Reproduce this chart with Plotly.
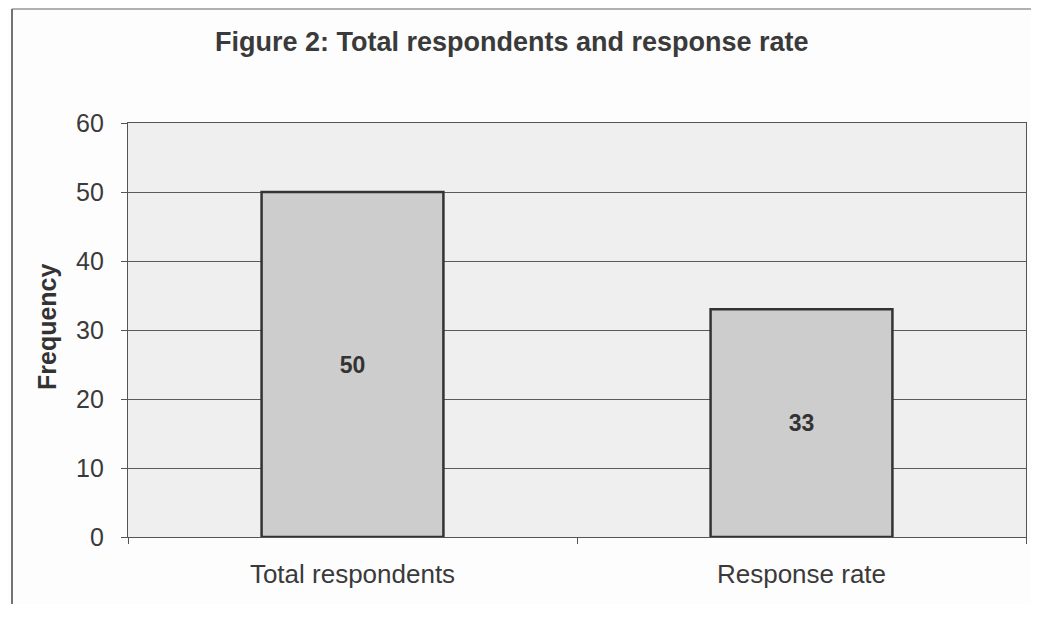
import plotly.graph_objects as go

categories = ["Total respondents", "Response rate"]
values = [50, 33]
labels = ["50", "33"]
y_ticks = [0, 10, 20, 30, 40, 50, 60]

# browser body margin offsets the figure by 8px
OFF = 8
W, H = 1039 - OFF, 618 - 2 * OFF - 6
# plot area in page pixels: x 128..1026, y 123..537
PL, PR, PT, PB = 128, 1026, 123, 537
L, T = PL - OFF, PT - OFF
R, B = W - (PR - OFF), H - (PB - OFF)
pw, ph = PR - PL, PB - PT


def px(x):
    return (x - PL) / pw


def py(y):
    return (PB - y) / ph


fig = go.Figure()
fig.add_trace(go.Bar(
    x=categories, y=values, text=labels,
    textposition="inside", insidetextanchor="middle",
    textfont=dict(family="Liberation Sans, Arial", size=23, color="#333333"),
    texttemplate="<b>%{text}</b>",
    marker=dict(color="#cdcdcd", line=dict(color="#333333", width=2.5)),
    hoverinfo="skip",
))

fig.update_layout(
    width=W, height=H,
    margin=dict(l=L, r=R, t=T, b=B),
    paper_bgcolor="#fdfdfd",
    plot_bgcolor="#efefef",
    bargap=0.595,
    showlegend=False,
    font=dict(family="Liberation Sans, Arial", color="#3a3a3a"),
    xaxis=dict(
        showgrid=False, showline=True, linecolor="#555555", linewidth=1.2,
        mirror=True, ticks="outside", ticklen=6, tickcolor="#555555",
        tickson="boundaries",
        tickfont=dict(family="Liberation Sans, Arial", size=26, color="#3a3a3a"),
        ticklabelstandoff=14,
    ),
    yaxis=dict(
        range=[0, 60], tickvals=y_ticks, showgrid=True, gridcolor="#5a5a5a",
        gridwidth=1, showline=True, linecolor="#555555", linewidth=1.2,
        mirror=True, ticks="outside", ticklen=6, tickcolor="#555555",
        zeroline=False,
        tickfont=dict(family="Liberation Sans, Arial", size=25, color="#3a3a3a"),
        ticklabelstandoff=12,
    ),
    annotations=[
        dict(text="<b>Figure 2: Total respondents and response rate</b>",
             xref="paper", yref="paper", x=px(512), y=py(42),
             xanchor="center", yanchor="middle", showarrow=False,
             font=dict(family="Liberation Sans, Arial", size=27, color="#3a3a3a")),
        dict(text="<b>Frequency</b>", textangle=-90,
             xref="paper", yref="paper", x=px(47), y=py(327),
             xanchor="center", yanchor="middle", showarrow=False,
             font=dict(family="Liberation Sans, Arial", size=25, color="#333333")),
    ],
    shapes=[
        dict(type="line", xref="paper", yref="paper",
             x0=px(12), x1=px(12), y0=py(9), y1=py(640),
             line=dict(color="#444444", width=1.5)),
        dict(type="line", xref="paper", yref="paper",
             x0=px(12), x1=px(1036), y0=py(9), y1=py(9),
             line=dict(color="#666666", width=1.2)),
        dict(type="line", xref="paper", yref="paper",
             x0=px(1036), x1=px(1036), y0=py(9), y1=py(240),
             line=dict(color="#666666", width=1.2)),
    ],
)

fig.write_html("out.html")
